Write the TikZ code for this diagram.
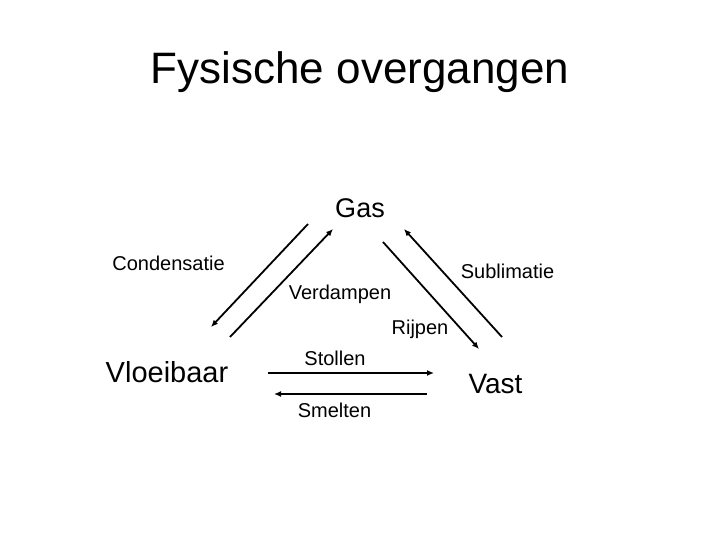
\documentclass[tikz,border=0pt]{standalone}
\usepackage{fontspec}
\setmainfont{Liberation Sans}
\usetikzlibrary{arrows.meta}
\begin{document}
\begin{tikzpicture}[x=1pt,y=-1pt,
  lbl/.style={inner sep=0pt,text height=0.716*#1 pt,text depth=0pt,font=\fontsize{#1}{#1}\selectfont},
  arr/.style={line width=1.8pt,-{Latex[length=7pt,width=6pt]}}]
\useasboundingbox (0,0) rectangle (720,540);
\node[lbl=44] (title) at (360,67.5) {Fysische overgangen};
\node[lbl=27] (gas) at (360,208) {Gas};
\node[lbl=20] (cond) at (168.5,263) {Condensatie};
\node[lbl=20] (subl) at (507.5,271) {Sublimatie};
\node[lbl=20] (verd) at (340,292.5) {Verdampen};
\node[lbl=20] (rijp) at (420,327) {Rijpen};
\node[lbl=29] (vloe) at (167,372) {Vloeibaar};
\node[lbl=28] (vast) at (495.5,383) {Vast};
\node[lbl=20] (stol) at (335,358.5) {Stollen};
\node[lbl=20] (smel) at (334.5,410.5) {Smelten};
\coordinate (c1a) at (308,224); \coordinate (c1b) at (211,327);
\coordinate (v1a) at (230,337); \coordinate (v1b) at (333,229);
\coordinate (r1a) at (383,242); \coordinate (r1b) at (479,349);
\coordinate (s1a) at (502,337); \coordinate (s1b) at (404,229);
\coordinate (st1a) at (268,373); \coordinate (st1b) at (434,373);
\coordinate (sm1a) at (427,394); \coordinate (sm1b) at (274,394);
\draw[arr] (c1a) -- (c1b);
\draw[arr] (v1a) -- (v1b);
\draw[arr] (r1a) -- (r1b);
\draw[arr] (s1a) -- (s1b);
\draw[arr] (st1a) -- (st1b);
\draw[arr] (sm1a) -- (sm1b);
\end{tikzpicture}
\end{document}
